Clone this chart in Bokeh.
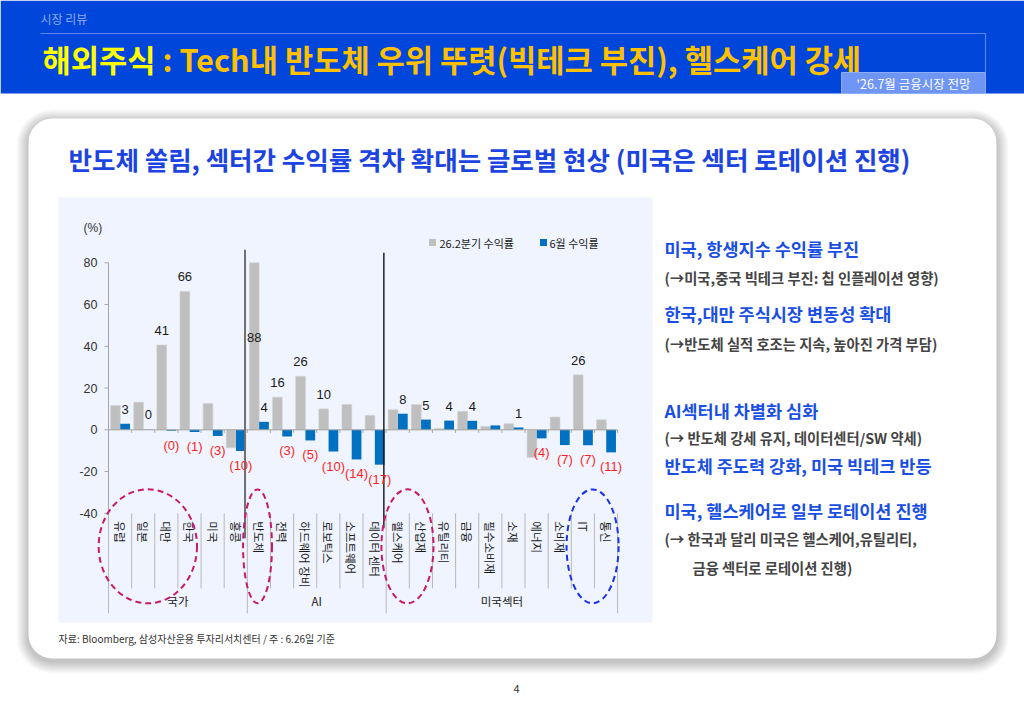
import math
import numpy as np
from bokeh.plotting import figure
from bokeh.models import Range1d, ColumnDataSource
from bokeh.core.properties import value
from bokeh.embed import file_html
from bokeh.resources import INLINE

# ---------------- data ----------------
categories = ["유럽", "일본", "대만", "한국", "미국", "홍콩",
              "반도체", "전력", "하드웨어 장비", "로보틱스", "소프트웨어", "데이터 센터",
              "헬스케어", "산업재", "유틸리티", "금융", "필수소비재", "소재",
              "에너지", "소비재", "IT", "통신"]
groups = ["국가", "AI", "미국섹터"]
group_sizes = [6, 6, 10]
q2_return = [11.6, 13.2, 40.6, 66.3, 12.6, -8.6,
             88.0, 15.6, 25.6, 10.0, 12.1, 6.9,
             9.6, 12.1, 0.6, 8.8, 1.6, 2.9, -13.2, 6.1, 26.3, 4.8]
jun_return = [2.9, 0.2, -0.4, -1.1, -3.0, -10.2,
              3.8, -3.2, -5.1, -10.4, -14.2, -16.7,
              7.7, 4.9, 4.4, 4.3, 2.1, 1.1, -4.1, -7.3, -7.4, -10.8]
q2_labelled = ["대만", "한국", "반도체", "전력", "하드웨어 장비", "로보틱스", "IT"]
jun_unlabelled = ["필수소비재"]
y_ticks = [-40, -20, 0, 20, 40, 60, 80]
series_names = ["26.2분기 수익률", "6월 수익률"]

# ---------------- styling / geometry ----------------
W, H = 1024, 709
KR = value("Noto Sans CJK KR")
NUM = value("Liberation Sans")
GRAY_BAR = "#BFBFBF"
BLUE_BAR = "#0070C0"
AXIS_C = "#A6A6A6"

Y_MIN, Y_MAX = -40, 80
X0_PX = 108.0          # left edge of the category axis (px)
CAT_W = 23.14          # width of one category (px)
Y0_PX = 429.3          # pixel row of the zero line
PX_PER_UNIT = 2.0875   # pixels per percent point

n = len(categories)
idx = np.arange(n)

p = figure(width=W, height=H, x_range=Range1d(0, W), y_range=Range1d(H, 0),
           output_backend="svg", toolbar_location=None, min_border=0,
           x_axis_location=None, y_axis_location=None,
           background_fill_color="white", border_fill_color="white",
           outline_line_color=None)
p.grid.visible = False

p.extra_x_ranges = {"cat": Range1d(-X0_PX / CAT_W, (W - X0_PX) / CAT_W)}
p.extra_y_ranges = {"val": Range1d(-(H - Y0_PX) / PX_PER_UNIT, Y0_PX / PX_PER_UNIT)}
C = dict(x_range_name="cat", y_range_name="val")

def u(px):
    """pixel distance expressed in percent units"""
    return px / PX_PER_UNIT

# ---------------- page: header ----------------
p.quad(left=0, right=W, top=0, bottom=93, fill_color="#0046DB", line_color=None)
p.text(x=[40], y=[18], text=["시장 리뷰"], text_font=KR, text_font_size=value("12px"),
       text_color="#8FAAF0", text_baseline="middle")
p.segment(x0=[40], y0=[33], x1=[985], y1=[33], line_color="#5C84F2", line_width=1.2)
p.segment(x0=[985], y0=[33], x1=[985], y1=[72], line_color="#5C84F2", line_width=1.2)
p.text(x=[42], y=[58], text=["해외주식"], text_font=KR, text_font_size=value("30.7px"),
       text_font_style="bold", text_color="#FFFF00", text_baseline="middle")
p.text(x=[162], y=[58], text=[" : Tech내 반도체 우위 뚜렷(빅테크 부진), 헬스케어 강세"],
       text_font=KR, text_font_size=value("30.7px"), text_font_style="bold",
       text_color="#FFC000", text_baseline="middle")
p.quad(left=841, right=985, top=72, bottom=93, fill_color="#6F95F5",
       line_color="#8DADFA", line_width=1)
p.text(x=[913], y=[83], text=["'26.7월 금융시장 전망"], text_font=KR,
       text_font_size=value("12.5px"), text_color="white",
       text_align="center", text_baseline="middle")

# ---------------- card with soft shadow ----------------
for k in range(12, 0, -1):
    p.quad(left=28 - k, right=996 + k, top=118 - k + 3, bottom=658 + k + 3,
           fill_color="#000000", fill_alpha=0.018, line_color=None,
           border_radius=24 + k)
p.quad(left=28, right=996, top=118, bottom=658, fill_color="white",
       line_color=None, border_radius=24)

p.text(x=[68], y=[158],
       text=["반도체 쏠림, 섹터간 수익률 격차 확대는 글로벌 현상 (미국은 섹터 로테이션 진행)"],
       text_font=KR, text_font_size=value("25.5px"), text_font_style="bold",
       text_color="#1B44E0", text_baseline="middle")

# chart panel
p.quad(left=58, right=652, top=197, bottom=622, fill_color="#EFF4FE", line_color=None)

# ---------------- chart ----------------
# y axis with ticks and labels
p.segment(x0=[0], y0=[Y_MAX], x1=[0], y1=[Y_MIN], line_color=AXIS_C, line_width=1, **C)
p.segment(x0=[-4 / CAT_W] * len(y_ticks), y0=y_ticks, x1=[0] * len(y_ticks), y1=y_ticks,
          line_color=AXIS_C, line_width=1, **C)
p.text(x=[0] * len(y_ticks), y=y_ticks, text=[f"{t:d}" for t in y_ticks],
       x_offset=-11, text_font=NUM, text_font_size=value("12.5px"), text_color="#333333",
       text_align="right", text_baseline="middle", **C)
p.text(x=[-25 / CAT_W], y=[Y_MAX + u(35)], text=["(%)"], text_font=NUM,
       text_font_size=value("12px"), text_color="#333333", text_baseline="middle", **C)

# bars
bar_w = 0.42
src = ColumnDataSource(dict(
    xg=idx + 0.30, xb=idx + 0.72,
    g=np.minimum(np.array(q2_return), Y_MAX), b=np.array(jun_return),
))
p.vbar(x="xg", top="g", bottom=0, width=bar_w, source=src, fill_color=GRAY_BAR,
       line_color="#D0D0D0", line_width=0.6, **C)
p.vbar(x="xb", top="b", bottom=0, width=bar_w, source=src, fill_color=BLUE_BAR,
       line_color=None, **C)

# zero line with boundary ticks
p.segment(x0=[0], y0=[0], x1=[n], y1=[0], line_color=AXIS_C, line_width=1, **C)
p.segment(x0=list(range(n + 1)), y0=[0] * (n + 1), x1=list(range(n + 1)),
          y1=[-u(3)] * (n + 1), line_color=AXIS_C, line_width=1, **C)

# group separators inside the plot
bounds = np.cumsum(group_sizes)[:-1]
p.segment(x0=[bounds[0] - 0.1], y0=[Y_MAX + u(13)], x1=[bounds[0] - 0.1], y1=[Y_MIN - u(25)],
          line_color="#707070", line_width=2, **C)
p.segment(x0=[bounds[1] - 0.1], y0=[Y_MAX + u(10)], x1=[bounds[1] - 0.1], y1=[Y_MIN - u(15)],
          line_color="#000000", line_width=1.3, **C)

# data labels
def fmt(v):
    r = int(round(abs(v)))
    return f"{r}" if v >= 0 else f"({r})"

lab_x, lab_y, lab_t, lab_c = [], [], [], []
for i, (c, v) in enumerate(zip(categories, q2_return)):
    if c in q2_labelled:
        lab_x.append(i + 0.30)
        lab_y.append(v / 2 if v > Y_MAX else v + u(14.5))
        lab_t.append(fmt(v))
        lab_c.append("#1A1A1A")
for i, (c, v) in enumerate(zip(categories, jun_return)):
    if c in jun_unlabelled:
        continue
    lab_x.append(i + 0.72)
    lab_y.append(v + u(14.5) if v >= 0 else v - u(14.5))
    lab_t.append(fmt(v))
    lab_c.append("#1A1A1A" if v >= 0 else "#FF1F1F")
p.text(x=lab_x, y=lab_y, text=lab_t, text_color=lab_c, text_font=NUM,
       text_font_size=value("13px"), text_align="center", text_baseline="middle", **C)

# category axis (multi-level) below the plot
all_bounds = [0] + list(np.cumsum(group_sizes))
inner = [b for b in range(1, n) if b not in all_bounds]
p.segment(x0=inner, y0=[Y_MIN] * len(inner), x1=inner, y1=[Y_MIN - u(75)] * len(inner),
          line_color="#B8B8B8", line_width=1, **C)
p.segment(x0=all_bounds, y0=[Y_MIN] * len(all_bounds), x1=all_bounds,
          y1=[Y_MIN - u(100)] * len(all_bounds), line_color="#B8B8B8", line_width=1, **C)
p.text(x=idx + 0.5, y=[Y_MIN - u(8)] * n, text=categories, angle=-math.pi / 2,
       text_font=KR, text_font_size=value("11.5px"), text_color="#1A1A1A",
       text_align="left", text_baseline="middle", **C)
g_centers = [(a + b) / 2 for a, b in zip(all_bounds[:-1], all_bounds[1:])]
p.text(x=g_centers, y=[Y_MIN - u(88)] * len(groups), text=groups, text_font=KR,
       text_font_size=value("11.5px"), text_color="#1A1A1A",
       text_align="center", text_baseline="middle", **C)

# legend
p.scatter(x=[432, 543], y=[242, 242], marker="square", size=7,
          fill_color=[GRAY_BAR, BLUE_BAR], line_color=None)
p.text(x=[439, 549], y=[242, 242], text=series_names, text_font=KR,
       text_font_size=value("11px"), text_color="#1A1A1A", text_baseline="middle")

# dashed highlight ellipses around category labels
highlights = [("유럽", "한국", "#C8196B", 0.3), ("반도체", "반도체", "#C8196B", 0.06),
              ("헬스케어", "산업재", "#C8196B", 0.08), ("IT", "통신", "#1A32E8", 0.08)]
ex, ew, ec = [], [], []
for a, b, col, shift in highlights:
    ia, ib = categories.index(a), categories.index(b)
    ex.append((ia + ib + 1) / 2 - shift)
    ew.append(ib - ia + 1 + 0.25)
    ec.append(col)
p.ellipse(x=ex, y=[Y_MIN - u(33)] * len(ex), width=ew, height=[u(114)] * len(ex),
          fill_color=None, line_color=ec, line_width=2, line_dash="6 4", **C)

# ---------------- commentary on the right ----------------
BLUE_T = "#1A4FE3"
GRAY_T = "#444444"
notes = [
    (664, 248, "미국, 항생지수 수익률 부진", BLUE_T, "17.5px"),
    (664, 277, "(→미국,중국 빅테크 부진: 칩 인플레이션 영향)", GRAY_T, "14.3px"),
    (664, 313, "한국,대만 주식시장 변동성 확대", BLUE_T, "17.5px"),
    (664, 343, "(→반도체 실적 호조는 지속, 높아진 가격 부담)", GRAY_T, "14.3px"),
    (664, 410, "AI섹터내 차별화 심화", BLUE_T, "17.5px"),
    (664, 437, "(→ 반도체 강세 유지, 데이터센터/SW 약세)", GRAY_T, "14.3px"),
    (664, 465, "반도체 주도력 강화, 미국 빅테크 반등", BLUE_T, "17.5px"),
    (664, 510, "미국, 헬스케어로 일부 로테이션 진행", BLUE_T, "17.5px"),
    (664, 538, "(→ 한국과 달리 미국은 헬스케어,유틸리티,", GRAY_T, "14.3px"),
    (692, 567, "금융 섹터로 로테이션 진행)", GRAY_T, "14.3px"),
]
for x, y, t, col, fs in notes:
    p.text(x=[x], y=[y], text=[t], text_font=KR, text_font_size=value(fs),
           text_font_style="bold", text_color=col, text_baseline="middle")

# footer
p.text(x=[58], y=[638], text=["자료: Bloomberg, 삼성자산운용 투자리서치센터 / 주 : 6.26일 기준"],
       text_font=KR, text_font_size=value("10px"), text_color="#333333",
       text_baseline="middle")
p.text(x=[516], y=[688], text=["4"], text_font=KR, text_font_size=value("11px"),
       text_color="#333333", text_align="center", text_baseline="middle")

open("out.html", "w").write(file_html(p, INLINE))
